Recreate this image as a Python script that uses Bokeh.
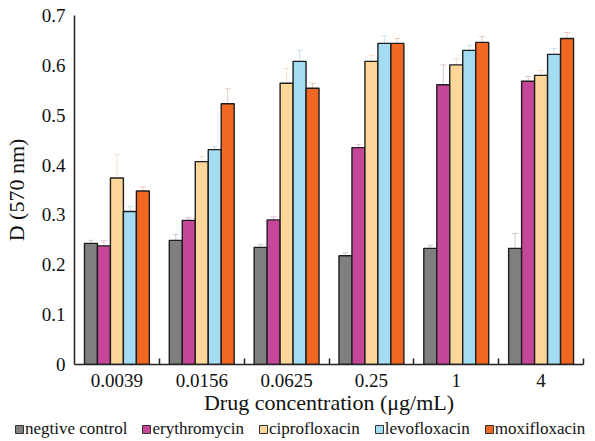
from bokeh.plotting import figure
from bokeh.models import (ColumnDataSource, FixedTicker, Legend, LegendItem, Range1d,
                          Whisker, TeeHead)
from bokeh.layouts import column
from bokeh.embed import file_html
from bokeh.resources import INLINE

concentrations = ["0.0039", "0.0156", "0.0625", "0.25", "1", "4"]
series_names = ["negtive control", "erythromycin", "ciprofloxacin", "levofloxacin", "moxifloxacin"]
negative_control = [0.243, 0.249, 0.235, 0.218, 0.233, 0.233]
erythromycin = [0.238, 0.289, 0.290, 0.435, 0.561, 0.568]
ciprofloxacin = [0.374, 0.407, 0.564, 0.608, 0.601, 0.580]
levofloxacin = [0.307, 0.431, 0.608, 0.644, 0.630, 0.622]
moxifloxacin = [0.348, 0.523, 0.554, 0.644, 0.646, 0.654]
err_negative = [0.006, 0.012, 0.006, 0.006, 0.006, 0.030]
err_erythro = [0.010, 0.006, 0.006, 0.006, 0.040, 0.010]
err_cipro = [0.047, 0.010, 0.030, 0.012, 0.012, 0.010]
err_levo = [0.010, 0.006, 0.022, 0.015, 0.010, 0.012]
err_moxi = [0.008, 0.030, 0.010, 0.010, 0.012, 0.012]

all_vals = [negative_control, erythromycin, ciprofloxacin, levofloxacin, moxifloxacin]
all_errs = [err_negative, err_erythro, err_cipro, err_levo, err_moxi]
colors = ["#7f7f7f", "#c6469a", "#fdd699", "#a4ddf3", "#f26722"]
err_colors = ["#444444", "#8a1f66", "#e08a3a", "#3a9cc0", "#a83a0a"]

FONT = "Liberation Serif"

p = figure(width=590, height=418, output_backend="svg", toolbar_location=None,
           x_range=Range1d(0, 6), y_range=Range1d(0, 0.7),
           min_border_left=73, min_border_right=7, min_border_top=15, min_border_bottom=54)
p.frame_align = False
p.outline_line_color = None
p.xgrid.visible = False
p.ygrid.visible = False

# legend strip (separate figure so the legend can span the full width)
lg = figure(width=590, height=22, output_backend="svg", toolbar_location=None,
            x_range=Range1d(0, 6), y_range=Range1d(0, 0.7),
            x_axis_location=None, y_axis_location=None,
            min_border_left=0, min_border_right=0, min_border_top=0, min_border_bottom=0)
lg.frame_align = False
lg.xgrid.visible = False
lg.ygrid.visible = False
lg.outline_line_color = None

bw = 0.153
items = []
for k, (name, vals, errs) in enumerate(zip(series_names, all_vals, all_errs)):
    xs = [i + 0.5 + (k - 2) * bw for i in range(len(concentrations))]
    src = ColumnDataSource(dict(x=xs, top=vals,
                                lo=[v - e for v, e in zip(vals, errs)],
                                hi=[v + e for v, e in zip(vals, errs)]))
    p.vbar(x="x", top="top", width=bw, bottom=0, source=src,
           fill_color=colors[k], line_color="#1e1e1e", line_width=1.4)
    w = Whisker(source=src, base="x", lower="lo", upper="hi",
                line_color=err_colors[k], line_alpha=0.25, line_width=1,
                upper_head=TeeHead(size=6, line_color=err_colors[k], line_alpha=0.25),
                lower_head=TeeHead(size=6, line_color=err_colors[k], line_alpha=0.25))
    p.add_layout(w)
    r = lg.vbar(x="x", top="top", width=bw, bottom=0, source=src,
                fill_color=colors[k], line_color="#333333", line_width=1, visible=False)
    items.append(LegendItem(label=name, renderers=[r]))

# x axis
p.xaxis.ticker = FixedTicker(ticks=[i + 0.5 for i in range(len(concentrations))],
                             minor_ticks=[1, 2, 3, 4, 5, 6])
p.xaxis.major_label_overrides = {i + 0.5: c for i, c in enumerate(concentrations)}
p.xaxis.major_tick_in = 0
p.xaxis.major_tick_out = 0
p.xaxis.minor_tick_in = 6
p.xaxis.minor_tick_out = 0
p.xaxis.minor_tick_line_color = "#222222"
p.xaxis.minor_tick_line_width = 1.5
p.xaxis.axis_line_color = "#222222"
p.xaxis.axis_line_width = 1.5
p.xaxis.major_label_text_font = FONT
p.xaxis.major_label_text_font_size = "19px"
p.xaxis.major_label_text_color = "#111111"
p.xaxis.major_label_standoff = 9
p.xaxis.axis_label = "Drug concentration (μg/mL)"
p.xaxis.axis_label_text_font = FONT
p.xaxis.axis_label_text_font_style = "normal"
p.xaxis.axis_label_text_font_size = "22px"
p.xaxis.axis_label_text_color = "#111111"
p.xaxis.axis_label_standoff = 0

# y axis
p.yaxis.ticker = FixedTicker(ticks=[0, 0.1, 0.2, 0.3, 0.4, 0.5, 0.6, 0.7])
p.yaxis.major_label_overrides = {0: "0"}
p.yaxis.major_tick_in = 0
p.yaxis.major_tick_out = 0
p.yaxis.minor_tick_line_color = None
p.yaxis.axis_line_color = "#222222"
p.yaxis.axis_line_width = 1.5
p.yaxis.major_label_text_font = FONT
p.yaxis.major_label_text_font_size = "19px"
p.yaxis.major_label_text_color = "#111111"
p.yaxis.major_label_standoff = 9
p.yaxis.axis_label = "D (570 nm)"
p.yaxis.axis_label_text_font = FONT
p.yaxis.axis_label_text_font_style = "normal"
p.yaxis.axis_label_text_font_size = "22px"
p.yaxis.axis_label_text_color = "#111111"
p.yaxis.axis_label_standoff = 10

legend = Legend(items=items, orientation="horizontal", location=(14, 1),
                glyph_width=10, glyph_height=10, label_standoff=1, spacing=14,
                padding=0, margin=0, border_line_color=None, background_fill_alpha=0,
                inactive_fill_alpha=0,
                label_text_font=FONT, label_text_font_size="17px",
                label_text_color="#111111", label_height=20)
lg.add_layout(legend, "center")

layout = column(p, lg, spacing=0)
open("out.html", "w").write(file_html(layout, INLINE))
